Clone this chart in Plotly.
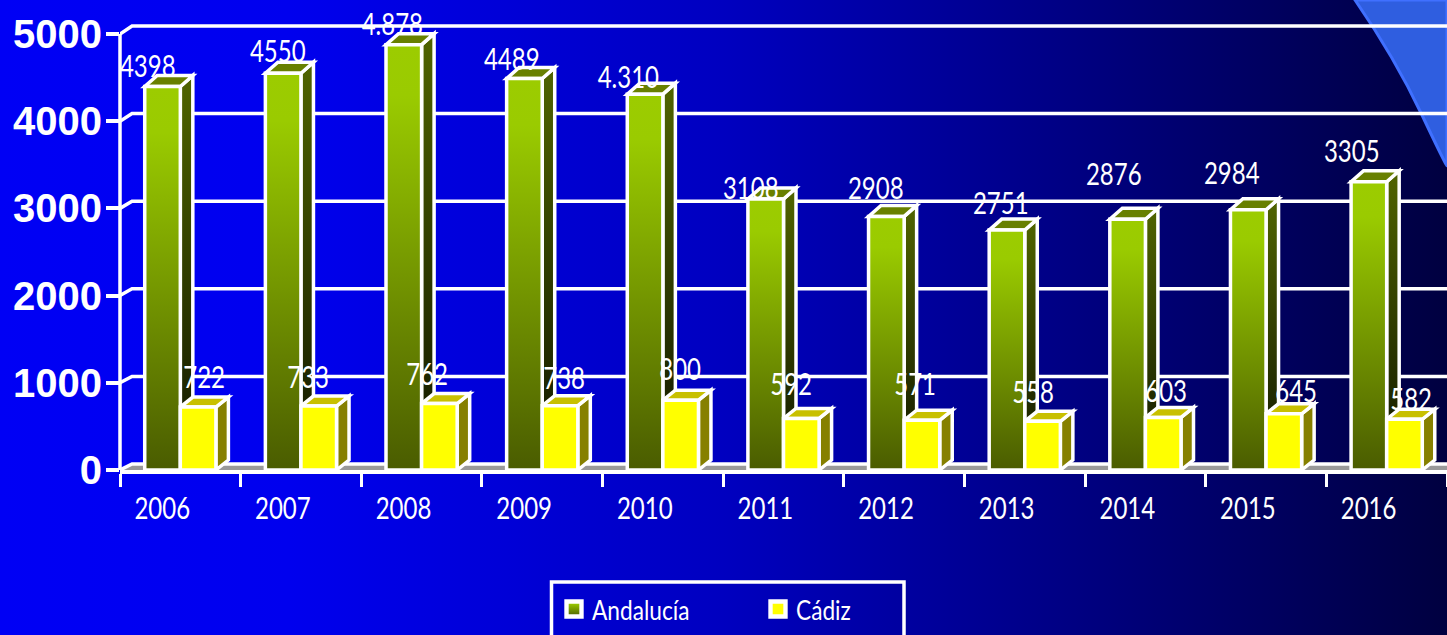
import base64
import plotly.graph_objects as go

YEARS = ["2006", "2007", "2008", "2009", "2010", "2011", "2012", "2013", "2014", "2015", "2016"]
ANDALUCIA = [4398, 4550, 4878, 4489, 4310, 3108, 2908, 2751, 2876, 2984, 3305]
CADIZ = [722, 733, 762, 738, 800, 592, 571, 558, 603, 645, 582]
ANDALUCIA_TEXT = ["4398", "4550", "4.878", "4489", "4.310", "3108", "2908", "2751", "2876", "2984", "3305"]
CADIZ_TEXT = ["722", "733", "762", "738", "800", "592", "571", "558", "603", "645", "582"]
Y_TICKS = [0, 1000, 2000, 3000, 4000, 5000]

# label placement relative to the bar top (pixels)
A_DX = [-32, -23, -29, -30, -34, -33, -28, -24, -31, -34, -35]
A_DY = [21, 23, 22, 21, 18, 12, 29, 28, 46, 38, 32]
C_DX = [24, 7, 5, 22, 17, 7, 11, 8, 21, 30, 24]
C_DY = [31, 30, 31, 29, 32, 35, 37, 30, 27, 24, 21]

W, H = 1447, 635
LEFT, FLOOR_PX, Y5000_PX = 120, 470, 34
PLOT_W = W - LEFT
CAT_PX = PLOT_W / len(YEARS)
UNIT_PER_PX = 5000 / (FLOOR_PX - Y5000_PX)
YMAX = FLOOR_PX * UNIT_PER_PX
DX = 12.5 / CAT_PX
DY_A = 11 * UNIT_PER_PX
DY_C = 10 * UNIT_PER_PX
GRID_DX = 12 / CAT_PX
BAR_W = 0.295
TXT = "Lato, sans-serif"
LINE = 3.5


def poly(pts):
    return "M" + " L".join(f"{x:.4f},{y:.2f}" for x, y in pts) + " Z"


def open_path(pts):
    return "M" + " L".join(f"{x:.4f},{y:.2f}" for x, y in pts)


shapes = []
xl, xr = -0.5, len(YEARS) - 0.5

# floor
floor_dy = 6 * UNIT_PER_PX
shapes.append(dict(type="path", xref="x", yref="y", layer="below", line=dict(width=0),
                   fillcolor="#999999",
                   path=poly([(xl, 0), (xr, 0), (xr, floor_dy), (xl + GRID_DX, floor_dy)])))
# back wall gridlines with their diagonal link to the front ticks
for v in Y_TICKS:
    back = (8 - 2 * (1 - v / 5000)) * UNIT_PER_PX
    shapes.append(dict(type="path", xref="x", yref="y", layer="below",
                       line=dict(color="white", width=LINE),
                       path=open_path([(xl, v), (xl + GRID_DX, v + back), (xr, v + back)])))
# front vertical axis
shapes.append(dict(type="line", xref="paper", yref="paper", layer="below",
                   x0=0, x1=0, y0=0, y1=5000 / YMAX, line=dict(color="white", width=LINE)))
# legend frame
shapes.append(dict(type="rect", xref="paper", yref="paper", layer="below",
                   x0=(551.5 - LEFT) / PLOT_W, x1=(904 - LEFT) / PLOT_W,
                   y0=-(680 - FLOOR_PX) / FLOOR_PX, y1=-(582 - FLOOR_PX) / FLOOR_PX,
                   line=dict(color="white", width=LINE)))


def faces(x0, x1, v, dy, side, top):
    out = []
    out.append(dict(type="path", xref="x", yref="y", layer="below", fillcolor=side,
                    line=dict(color="white", width=LINE),
                    path=poly([(x1, 0), (x1 + DX, dy), (x1 + DX, v + dy), (x1, v)])))
    out.append(dict(type="path", xref="x", yref="y", layer="below", fillcolor=top,
                    line=dict(color="white", width=LINE),
                    path=poly([(x0, v), (x1, v), (x1 + DX, v + dy), (x0 + DX, v + dy)])))
    return out


for i, v in enumerate(ANDALUCIA):
    shapes += faces(i - BAR_W, i, v, DY_A, "#4d6000", "#688000")
for i, v in enumerate(CADIZ):
    shapes += faces(i, i + BAR_W, v, DY_C, "#868000", "#c8c000")

annotations = []
for i in range(len(YEARS)):
    annotations.append(dict(x=i, y=ANDALUCIA[i], text=ANDALUCIA_TEXT[i], showarrow=False,
                            xshift=A_DX[i], yshift=A_DY[i], xanchor="center", yanchor="middle",
                            font=dict(family=TXT, size=30, color="white")))
    annotations.append(dict(x=i, y=CADIZ[i], text=CADIZ_TEXT[i], showarrow=False,
                            xshift=C_DX[i], yshift=C_DY[i], xanchor="center", yanchor="middle",
                            font=dict(family=TXT, size=30, color="white")))

bg_svg = f'''<svg xmlns="http://www.w3.org/2000/svg" width="{W}" height="{H}" viewBox="0 0 {W} {H}">
<defs><linearGradient id="g" x1="0" x2="1" y1="0" y2="0">
<stop offset="0" stop-color="#0000f5"/><stop offset="0.2" stop-color="#0000ee"/>
<stop offset="0.5" stop-color="#0000c0"/><stop offset="0.75" stop-color="#000080"/>
<stop offset="1" stop-color="#000040"/></linearGradient></defs>
<rect width="{W}" height="{H}" fill="url(#g)"/>
<path d="M1355,0 Q1395,58 1422,115 T1447,165 L1447,0 Z" fill="#2f5ee0" stroke="#4070ff" stroke-width="3"/>
</svg>'''
bg_uri = "data:image/svg+xml;base64," + base64.b64encode(bg_svg.encode()).decode()

fig = go.Figure()
fig.add_bar(x=list(range(len(YEARS))), y=ANDALUCIA, name="Andalucía",
            offset=-BAR_W, width=BAR_W,
            marker=dict(color="#99cc00", line=dict(color="white", width=LINE)))
fig.add_bar(x=list(range(len(YEARS))), y=CADIZ, name="Cádiz",
            offset=0, width=BAR_W,
            marker=dict(color="#ffff00", line=dict(color="white", width=LINE)))

fig.update_layout(
    width=W, height=H, autosize=False,
    margin=dict(l=LEFT, r=0, t=0, b=H - FLOOR_PX, autoexpand=False),
    paper_bgcolor="#0000c0", plot_bgcolor="rgba(0,0,0,0)",
    barmode="overlay",
    shapes=shapes, annotations=annotations,
    images=[dict(source=bg_uri, xref="paper", yref="paper", x=-LEFT / PLOT_W, y=1,
                 sizex=W / PLOT_W, sizey=H / FLOOR_PX, sizing="stretch",
                 xanchor="left", yanchor="top", layer="below")],
    xaxis=dict(range=[xl, xr], tickmode="array", tickvals=[i - 0.15 for i in range(len(YEARS))],
               ticktext=YEARS, ticks="outside", ticklen=9, tickcolor="rgba(0,0,0,0)",
               tickfont=dict(family=TXT, size=30, color="white"), tickangle=0,
               showgrid=False, zeroline=False, showline=True, linecolor="white", linewidth=LINE,
               minor=dict(tickmode="array", tickvals=[i - 0.5 for i in range(len(YEARS) + 1)],
                          ticks="outside", ticklen=13, tickwidth=3, tickcolor="white", showgrid=False),
               fixedrange=True),
    yaxis=dict(range=[0, YMAX], tickmode="array", tickvals=Y_TICKS,
               ticks="outside", ticklen=13, tickwidth=LINE, tickcolor="white",
               tickfont=dict(family="Liberation Sans", size=40, color="white", weight="bold"),
               ticklabelstandoff=-4,
               showgrid=False, zeroline=False, showline=False, fixedrange=True),
    legend=dict(orientation="h", x=(552 - LEFT) / PLOT_W, y=-(585 - FLOOR_PX) / FLOOR_PX,
                xanchor="left", yanchor="top", bgcolor="rgba(0,0,0,0)", borderwidth=0,
                entrywidth=159, entrywidthmode="pixels", traceorder="normal",
                font=dict(family=TXT, size=27, color="white")),
    showlegend=True,
)

post = """
document.documentElement.style.margin = '0';
document.body.style.margin = '0';
document.body.style.overflow = 'hidden';
var gd = document.getElementById('{plot_id}');
var NS = 'http://www.w3.org/2000/svg';
function makeGrad(svg, id, stops) {
  if (document.getElementById(id)) return;
  var defs = svg.querySelector('defs') || svg.appendChild(document.createElementNS(NS, 'defs'));
  var g = document.createElementNS(NS, 'linearGradient');
  g.setAttribute('id', id); g.setAttribute('x1', '0'); g.setAttribute('x2', '0');
  g.setAttribute('y1', '0'); g.setAttribute('y2', '1');
  stops.forEach(function (s) {
    var st = document.createElementNS(NS, 'stop');
    st.setAttribute('offset', s[0]); st.setAttribute('stop-color', s[1]); g.appendChild(st);
  });
  defs.appendChild(g);
}
function squeeze(sel, f) {
  gd.querySelectorAll(sel).forEach(function (t) {
    if (t.getAttribute('textLength')) return;
    t.setAttribute('textLength', t.getComputedTextLength() * f);
    t.setAttribute('lengthAdjust', 'spacingAndGlyphs');
  });
}
function paint() {
  var svg = gd.querySelector('.main-svg');
  makeGrad(svg, 'andGrad', [[0, '#9ccc00'], [0.12, '#9acb00'], [1, '#4a5c00']]);
  makeGrad(svg, 'sideGrad', [[0, '#506400'], [0.85, '#1a2200'], [1, '#1a2200']]);
  var tr = gd.querySelectorAll('.barlayer .trace');
  if (tr[0]) tr[0].querySelectorAll('.point path').forEach(function (p) { p.style.fill = 'url(#andGrad)'; });
  gd.querySelectorAll('.shapelayer path').forEach(function (p) {
    if (p.style.fill === 'rgb(77, 96, 0)') p.style.fill = 'url(#sideGrad)';
  });
  gd.querySelectorAll('.legend .traces').forEach(function (t, i) {
    var p = t.querySelector('.legendpoints path');
    if (!p) return;
    if (i === 0) p.style.fill = 'url(#andGrad)';
    p.setAttribute('transform', 'translate(22,0) scale(1.25)');
  });
  squeeze('.annotation-text', 0.8);
  squeeze('.xtick text', 0.8);
  squeeze('.legendtext', 0.84);
}
paint();
gd.on('plotly_afterplot', paint);
"""

fig.write_html("out.html", post_script=post, config=dict(displayModeBar=False))
